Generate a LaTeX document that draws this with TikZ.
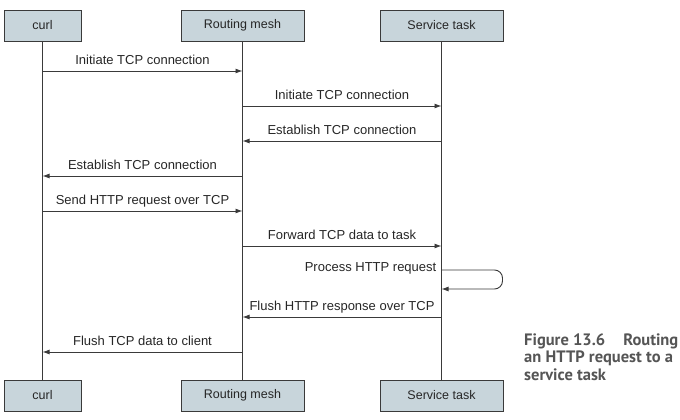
\documentclass[tikz,border=0pt]{standalone}
\usepackage{fontspec}
\setmainfont{Liberation Sans}
\newfontfamily\capfont{PT Sans}
\usetikzlibrary{arrows.meta}
\definecolor{boxfill}{HTML}{C8D5DB}
\definecolor{linegray}{HTML}{3A3A3A}
\definecolor{capgray}{HTML}{555555}
\begin{document}
\begin{tikzpicture}[x=1pt,y=-1pt,
  actor/.style={draw=linegray,line width=0.9pt,fill=boxfill,minimum height=31pt,inner sep=0pt,font=\fontsize{12.5}{14}\selectfont,text=black!85},
  life/.style={draw=linegray,line width=0.8pt},
  msg/.style={draw=linegray,line width=0.9pt,-{Latex[length=7pt,width=5pt]}},
  lbl/.style={font=\fontsize{13}{15}\selectfont,text=black!85,inner sep=0pt,anchor=base}]
\useasboundingbox (0,0) rectangle (680,420);
% top actors
\node[actor,minimum width=77pt] (c1) at (42.5,25.5) {curl};
\node[actor,minimum width=123pt] (r1) at (242.5,25.5) {Routing mesh};
\node[actor,minimum width=123pt] (s1) at (441.5,25.5) {Service task};
% bottom actors
\node[actor,minimum width=77pt] (c2) at (42.5,395.5) {curl};
\node[actor,minimum width=123pt] (r2) at (242.5,395.5) {Routing mesh};
\node[actor,minimum width=123pt] (s2) at (441.5,395.5) {Service task};
% lifelines
\draw[life] (c1.south) -- (c2.north);
\draw[life] (r1.south) -- (r2.north);
\draw[life] (s1.south) -- (s2.north);
% message coordinates
\foreach \y/\n in {71/1,106/2,141/3,176/4,211/5,246/6,270/7,289/8,317/9,352/10}{
  \coordinate (c\n) at (c1.south |- 0,\y);
  \coordinate (r\n) at (r1.south |- 0,\y);
  \coordinate (s\n) at (s1.south |- 0,\y);
}
\draw[msg] (c1) -- (r1) node[lbl,midway,yshift=6.5pt] {Initiate TCP connection};
\draw[msg] (r2) -- (s2) node[lbl,midway,yshift=6.5pt] {Initiate TCP connection};
\draw[msg] (s3) -- (r3) node[lbl,midway,yshift=6.5pt] {Establish TCP connection};
\draw[msg] (r4) -- (c4) node[lbl,midway,yshift=6.5pt] {Establish TCP connection};
\draw[msg] (c5) -- (r5) node[lbl,midway,yshift=6.5pt] {Send HTTP request over TCP};
\draw[msg] (r6) -- (s6) node[lbl,midway,yshift=6.5pt] {Forward TCP data to task};
\draw[msg,rounded corners=8pt] (s7) -- ++(61,0) |- (s8);
\node[lbl,anchor=base east] (pl) at ([xshift=-5pt,yshift=-1pt]s7) {Process HTTP request};
\draw[msg] (s9) -- (r9) node[lbl,midway,yshift=7pt] {Flush HTTP response over TCP};
\draw[msg] (r10) -- (c10) node[lbl,midway,yshift=6.5pt] {Flush TCP data to client};
% caption
\node[anchor=base west,align=left,inner sep=0pt,text=capgray,
  font=\capfont\bfseries\fontsize{16.5}{17.5}\selectfont] (cap) at (524,380)
  {Figure 13.6\hspace{1.1em}Routing\\an HTTP request to a\\service task};
\end{tikzpicture}
\end{document}
